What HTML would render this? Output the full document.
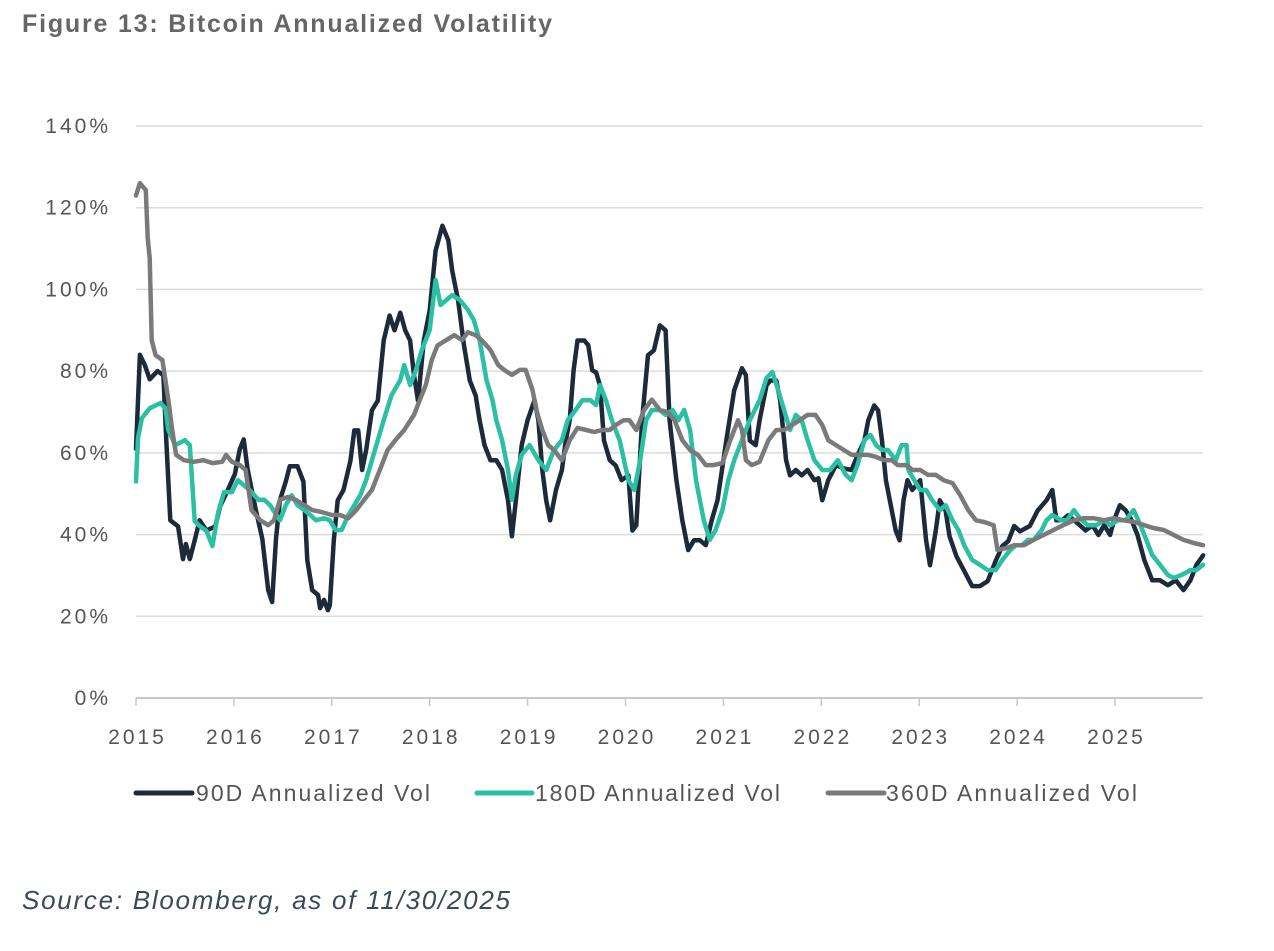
<!DOCTYPE html>
<html><head><meta charset="utf-8"><style>
body{margin:0;background:#fff;width:1274px;height:946px;overflow:hidden;font-family:"Liberation Sans",sans-serif}
</style></head><body>
<svg id="chart" width="1274" height="946" xmlns="http://www.w3.org/2000/svg">
<text x="22" y="32" font-family="Liberation Sans, sans-serif" font-weight="bold" font-size="25" fill="#666" textLength="530" lengthAdjust="spacing">Figure 13: Bitcoin Annualized Volatility</text>
<g id="grid"></g><g id="series"></g><g id="axes"></g>
<g font-family="Liberation Sans, sans-serif" font-size="23" fill="#555">
<line x1="136" y1="793" x2="192" y2="793" stroke="#1c2a3a" stroke-width="5" stroke-linecap="round"/>
<text x="196" y="801" textLength="234" lengthAdjust="spacing">90D Annualized Vol</text>
<line x1="477" y1="793" x2="532" y2="793" stroke="#2bbfa4" stroke-width="5" stroke-linecap="round"/>
<text x="535" y="801" textLength="245" lengthAdjust="spacing">180D Annualized Vol</text>
<line x1="828" y1="793" x2="884" y2="793" stroke="#7a7a7a" stroke-width="5" stroke-linecap="round"/>
<text x="886" y="801" textLength="251" lengthAdjust="spacing">360D Annualized Vol</text>
</g>
<text x="22" y="909" font-family="Liberation Sans, sans-serif" font-style="italic" font-size="26" fill="#3a4a5a" textLength="488" lengthAdjust="spacing">Source: Bloomberg, as of 11/30/2025</text>
</svg>
<script>
// years since 2015-01-01
const t90=[0,.04,.09,.14,.22,.28,.31,.35,.43,.48,.51,.55,.60,.65,.72,.81,.86,.94,1.01,1.06,1.10,1.14,1.22,1.29,1.35,1.39,1.43,1.47,1.53,1.57,1.65,1.71,1.75,1.80,1.86,1.88,1.92,1.96,1.98,2.02,2.06,2.12,2.19,2.23,2.27,2.31,2.35,2.41,2.47,2.53,2.59,2.64,2.70,2.75,2.80,2.84,2.88,2.94,3.00,3.06,3.13,3.19,3.23,3.29,3.35,3.41,3.47,3.51,3.56,3.62,3.68,3.74,3.80,3.84,3.88,3.94,4.00,4.07,4.11,4.15,4.19,4.23,4.29,4.35,4.39,4.43,4.47,4.51,4.58,4.62,4.66,4.70,4.74,4.78,4.84,4.90,4.96,5.03,5.07,5.11,5.17,5.23,5.29,5.35,5.41,5.45,5.52,5.58,5.64,5.70,5.76,5.82,5.88,5.94,6.03,6.11,6.19,6.23,6.27,6.33,6.37,6.44,6.48,6.54,6.58,6.64,6.68,6.74,6.80,6.86,6.93,6.97,7.01,7.07,7.15,7.23,7.31,7.37,7.44,7.48,7.54,7.58,7.62,7.66,7.70,7.76,7.80,7.84,7.88,7.93,8.01,8.07,8.11,8.17,8.21,8.27,8.31,8.38,8.46,8.54,8.62,8.70,8.78,8.85,8.91,8.97,9.03,9.13,9.21,9.30,9.36,9.40,9.46,9.52,9.58,9.64,9.70,9.77,9.83,9.89,9.95,9.99,10.05,10.11,10.17,10.23,10.30,10.38,10.46,10.54,10.62,10.70,10.77,10.83,10.90];
const v90=[61,84,81.5,78,80,79,63,43.5,42,34,37.7,34,38.6,43.5,41,42,47,51,54.8,60.9,63.3,56,46.5,39,26.4,23.5,39,48.4,53,56.7,56.7,53,33.7,26.4,25.2,22,24,21.5,22.7,38.6,48.4,50.9,58,65.5,65.5,55.8,60.6,70.4,72.8,87.5,93.6,90,94.3,90,87.5,79,72.8,87.5,94.9,109.5,115.6,112,104.6,97.3,86.3,77.7,74,68,61.9,58.2,58.2,55.8,48.4,39.6,48.4,61.9,68,72.9,68,55.8,48.4,43.5,50.9,55.8,63,68,80.2,87.5,87.5,86.3,80.2,79.7,76.5,63,58.2,56.9,53.3,54.5,41,42.3,68,83.9,85.1,91.2,90,68,53.3,43.5,36.2,38.6,38.6,37.4,43.5,48.4,63,75.3,80.7,79,63,61.9,68,76.5,77.7,77.7,72.8,58.2,54.5,55.8,54.5,55.8,53.3,53.8,48.4,53.3,57,56.2,55.8,59.4,63,68,71.6,70.4,63,53.3,48.4,41,38.6,48.4,53.3,50.9,53.3,38.6,32.5,41,48.4,45.9,39.6,34.7,31.1,27.4,27.4,28.6,33.5,37.2,38.4,42.1,40.8,42.1,45.9,48.4,50.9,43.5,43.5,44.7,43.5,42.3,41,42.3,39.9,42.3,39.9,43.5,47.2,45.9,43.5,39.9,33.7,28.8,28.8,27.6,28.8,26.4,28.8,32.5,34.9];
const t180=[0,.02,.06,.14,.25,.30,.33,.40,.50,.55,.60,.65,.72,.78,.84,.90,.98,1.04,1.10,1.16,1.25,1.31,1.37,1.47,1.53,1.59,1.65,1.72,1.78,1.84,1.92,1.98,2.04,2.10,2.17,2.23,2.29,2.35,2.41,2.47,2.53,2.61,2.70,2.74,2.80,2.86,2.92,3.00,3.06,3.11,3.17,3.23,3.31,3.39,3.45,3.51,3.58,3.64,3.68,3.74,3.80,3.84,3.88,3.94,4.02,4.11,4.19,4.27,4.35,4.41,4.49,4.56,4.64,4.70,4.74,4.80,4.86,4.94,5.03,5.09,5.15,5.21,5.27,5.35,5.41,5.48,5.54,5.60,5.66,5.72,5.80,5.86,5.92,5.99,6.05,6.11,6.19,6.27,6.37,6.44,6.50,6.56,6.62,6.68,6.74,6.80,6.86,6.93,7.01,7.09,7.17,7.25,7.31,7.37,7.44,7.50,7.56,7.62,7.68,7.76,7.82,7.87,7.89,7.95,8.01,8.07,8.13,8.21,8.27,8.34,8.40,8.46,8.54,8.62,8.70,8.78,8.85,8.93,8.99,9.05,9.11,9.17,9.25,9.30,9.36,9.45,9.51,9.58,9.64,9.72,9.81,9.89,9.95,10.03,10.11,10.19,10.26,10.32,10.38,10.46,10.54,10.60,10.68,10.77,10.83,10.90];
const v180=[53,63.6,68.5,70.9,72.2,70.9,65.6,61.9,63.1,61.9,43.3,42.1,40.9,37.2,45.5,50.4,50.4,53.3,52.1,50.9,48.5,48.5,47.2,43.5,47.2,49.6,47.2,46,44.8,43.5,44,43.5,41.1,41.1,44.8,47.2,49.6,53.3,58.2,63.1,68,74.1,77.8,81.5,76.6,80.3,85.2,90.1,102.3,96.2,97.4,98.6,97.4,95,92.5,87.6,77.8,73,68,63.1,55.8,48.5,54.6,59.5,61.9,58.2,55.8,60.7,63.1,68,70.5,72.9,72.9,71.7,76.6,72.9,68,63.1,53.3,50.9,58.2,68,70.5,70.5,69.3,70.5,68,70.5,65.6,53.3,43.5,38.7,41.1,46,53.3,58.2,63.1,68,72.9,78.3,79.8,75.3,70.5,65.6,69.3,68,63.1,58.2,55.8,55.8,58.2,54.6,53.3,57,63.1,64.4,61.9,60.7,60.7,58.2,61.9,61.9,55.8,53.3,50.9,50.9,48.5,46,47.2,43.5,41.1,37.4,33.8,32.6,31.3,31.3,33.8,36.2,37.4,37.4,38.7,38.7,41.1,43.5,44.8,43.5,43.5,46,44,42.3,42.3,43.5,42.3,43.5,43.5,46,42.3,38.7,35,32.6,30.1,29.4,30.1,31.3,31.3,32.6];
const t360=[0,.04,.10,.12,.14,.16,.20,.27,.33,.37,.41,.49,.59,.69,.78,.88,.92,.98,1.06,1.12,1.18,1.27,1.35,1.41,1.47,1.55,1.63,1.72,1.80,1.90,2.00,2.08,2.17,2.25,2.33,2.41,2.49,2.57,2.65,2.74,2.84,2.90,2.96,3.02,3.08,3.17,3.25,3.33,3.39,3.47,3.53,3.62,3.70,3.76,3.84,3.92,3.98,4.05,4.09,4.15,4.21,4.27,4.35,4.43,4.51,4.60,4.68,4.76,4.84,4.90,4.98,5.04,5.11,5.19,5.27,5.35,5.43,5.50,5.58,5.66,5.74,5.82,5.90,5.99,6.07,6.15,6.19,6.23,6.29,6.37,6.46,6.54,6.62,6.70,6.78,6.86,6.94,7.01,7.07,7.15,7.23,7.31,7.40,7.48,7.56,7.64,7.72,7.78,7.87,7.93,8.01,8.09,8.17,8.25,8.34,8.42,8.50,8.58,8.66,8.76,8.80,8.89,8.97,9.07,9.17,9.27,9.37,9.47,9.58,9.68,9.78,9.89,9.99,10.09,10.19,10.30,10.39,10.50,10.60,10.70,10.81,10.90];
const v360=[123,126,124.3,112.6,107.7,87.6,83.9,82.7,73,65.6,59.5,58.2,57.8,58.2,57.5,57.8,59.5,57.8,57,55.8,46,43.5,42.3,43.5,48.5,49.2,48.5,47.2,46,45.5,44.8,44.8,44,46,48.5,50.9,55.8,60.7,63.1,65.6,69.3,73,76.6,82.7,86.3,87.6,88.8,87.6,89.5,88.8,87.6,85.2,81.5,80.3,79.1,80.3,80.3,75.4,70.5,65.6,61.9,60.7,58.2,63.1,66.1,65.6,65.1,65.6,65.6,66.8,68,68,65.6,70.5,73,70.5,70,68,63.1,60.7,59.5,57,57,57.5,63.1,68,65.6,58.2,57,57.8,63.1,65.6,65.6,66.8,68,69.3,69.3,66.8,63.1,61.9,60.7,59.5,59.5,59.5,59,58.2,58.2,57,57,55.8,55.8,54.6,54.6,53.3,52.6,49.6,46,43.5,43.1,42.3,36.2,36.7,37.4,37.4,38.7,39.9,41.1,42.3,43.5,44,44,43.5,44,43.5,43.1,42.3,41.6,41.1,39.9,38.7,37.9,37.4];
const yTicks=[0,20,40,60,80,100,120,140];
const xTicks=[2015,2016,2017,2018,2019,2020,2021,2022,2023,2024,2025];

const NS='http://www.w3.org/2000/svg';
const X0=136,X1=1203,Y0=698,YTOP=126;
const xs=t=>X0+t*97.9;
const ys=v=>Y0-(v/140)*(Y0-YTOP);
function mk(tag,attrs,parent){const e=document.createElementNS(NS,tag);for(const k in attrs)e.setAttribute(k,attrs[k]);parent.appendChild(e);return e;}
const grid=document.getElementById('grid'),axes=document.getElementById('axes'),ser=document.getElementById('series');
yTicks.forEach(v=>{
  if(v>0){const g=mk('line',{x1:X0,x2:X1,y1:ys(v),y2:ys(v),stroke:'#dcdcdc','stroke-width':1.5},grid);
  
  }
  const t=mk('text',{x:111,y:ys(v)+7,'text-anchor':'end','font-size':21,'letter-spacing':3,fill:'#555','font-family':'Liberation Sans, sans-serif'},axes);
  t.textContent=v+'%';
  
  
});
const ax=mk('line',{x1:X0,x2:X1,y1:Y0,y2:Y0,stroke:'#c8c8c8','stroke-width':2},axes);


xTicks.forEach(yr=>{
  const x=xs(yr-2015);
  const tk=mk('line',{x1:x,x2:x,y1:Y0,y2:Y0+8,stroke:'#c8c8c8','stroke-width':1.5},axes);
  
  
  const t=mk('text',{x:x+1.5,y:744,'text-anchor':'middle','font-size':21,'letter-spacing':3,fill:'#555','font-family':'Liberation Sans, sans-serif'},axes);
  t.textContent=yr;
  
  
});
function line(ts,vs,color,name){
  const d=ts.map((t,i)=>(i?'L':'M')+xs(t).toFixed(1)+','+ys(vs[i]).toFixed(1)).join('');
  const p=mk('path',{d:d,fill:'none',stroke:color,'stroke-width':4.5,'stroke-linejoin':'round','stroke-linecap':'round'},ser);
  
  
}
line(t90,v90,'#1c2a3a','series-90d-vol');
line(t180,v180,'#2bbfa4','series-180d-vol');
line(t360,v360,'#7a7a7a','series-360d-vol');
</script>
</body></html>
